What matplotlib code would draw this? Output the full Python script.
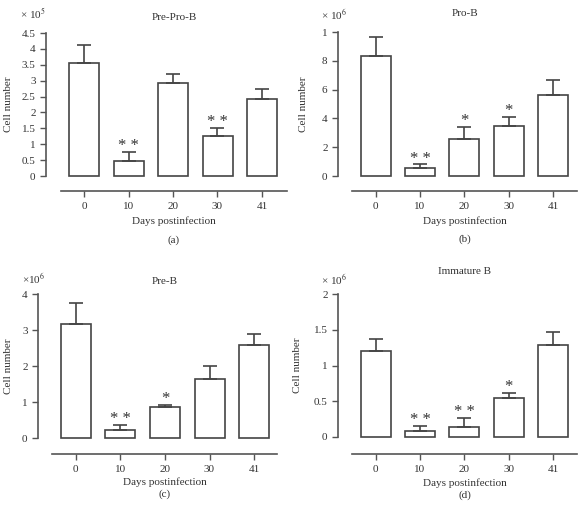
import matplotlib
matplotlib.use("Agg")
import matplotlib.pyplot as plt

plt.rcParams['font.family'] = ['Liberation Serif', 'DejaVu Serif']
plt.rcParams['mathtext.fontset'] = 'stix'

days = ["0", "10", "20", "30", "41"]

# panel data (values in units of the multiplier shown on the axis)
prepro_mean = [3.55, 0.47, 2.93, 1.27, 2.42]
prepro_err = [0.57, 0.30, 0.29, 0.25, 0.32]
prepro_stars = ["", "**", "", "**", ""]

pro_mean = [8.3, 0.55, 2.6, 3.45, 5.65]
pro_err = [1.35, 0.25, 0.8, 0.65, 1.0]
pro_stars = ["", "**", "*", "*", ""]

preb_mean = [3.18, 0.22, 0.86, 1.63, 2.58]
preb_err = [0.57, 0.13, 0.07, 0.37, 0.30]
preb_stars = ["", "**", "*", "", ""]

imm_mean = [1.2, 0.09, 0.14, 0.54, 1.29]
imm_err = [0.17, 0.07, 0.13, 0.07, 0.18]
imm_stars = ["", "**", "**", "*", ""]

W, H = 585, 511
fig = plt.figure(figsize=(W / 100, H / 100), dpi=100)

LC = "#555555"
TC = "#333333"
FS = 8


def panel(mean, err, stars, ymax, yticks, yticklabels, title, mult, tag,
          ax_x, top_y, zero_y, line_y, line_x0, line_x1, c0, step,
          title_y, mult_x, mult_y, xlab_y, tag_y, ylab_x):
    left = ax_x / W
    width = (line_x1 - ax_x) / W
    bottom = 1 - line_y / H
    height = (line_y - top_y) / H
    ax = fig.add_axes([left, bottom, width, height])
    ppu = (zero_y - top_y) / ymax
    ax.set_ylim(-(line_y - zero_y) / ppu, ymax)
    xmin = (ax_x - c0) / step
    xmax = (line_x1 - c0) / step
    ax.set_xlim(xmin, xmax)
    pos = list(range(len(mean)))
    ax.bar(pos, mean, width=30 / step, facecolor="white", edgecolor="#444444",
           linewidth=1.2, zorder=2)
    ax.errorbar(pos, mean, yerr=[[0] * len(err), err], fmt="none",
                ecolor="#444444", elinewidth=1.2, capsize=5, capthick=1.2, zorder=3)
    for p, m, e, s in zip(pos, mean, err, stars):
        if s:
            ax.annotate(" ".join(s), (p, m + e), xytext=(0, -1.5), textcoords="offset points",
                        ha="center", va="bottom", fontsize=12, color=TC)
    for side in ["top", "right"]:
        ax.spines[side].set_visible(False)
    ax.spines["left"].set_bounds(0, ymax)
    ax.spines["bottom"].set_bounds((line_x0 - c0) / step, xmax)
    for side in ["left", "bottom"]:
        ax.spines[side].set_color(LC)
        ax.spines[side].set_linewidth(1.2)
    ax.set_yticks(yticks)
    ax.set_yticklabels(yticklabels)
    ax.set_xticks(pos)
    ax.set_xticklabels(days)
    ax.tick_params(colors=LC, labelcolor=TC, labelsize=FS, width=1.0, length=4)
    ax.tick_params(axis="x", pad=4)
    xc = ((line_x0 + line_x1) / 2) / W
    fig.text(xc, 1 - title_y / H, title, ha="center", va="center", fontsize=FS, color=TC)
    fig.text(mult_x / W, 1 - mult_y / H, mult, ha="left", va="center", fontsize=FS, color=TC)
    fig.text(xc, 1 - xlab_y / H, "Days postinfection", ha="center", va="center",
             fontsize=FS, color=TC)
    fig.text(xc, 1 - tag_y / H, tag, ha="center", va="center", fontsize=FS, color=TC)
    fig.text(ylab_x / W, 1 - ((top_y + zero_y) / 2) / H, "Cell number", rotation=90,
             ha="center", va="center", fontsize=FS, color=TC)
    return ax


panel(prepro_mean, prepro_err, prepro_stars, 4.5,
      [0, 0.5, 1, 1.5, 2, 2.5, 3, 3.5, 4, 4.5],
      ["0", "0.5", "1", "1.5", "2", "2.5", "3", "3.5", "4", "4.5"],
      "Pre-Pro-B", r"× 10$^5$", "(a)",
      ax_x=46, top_y=33, zero_y=176, line_y=191, line_x0=61, line_x1=287,
      c0=84, step=44.5, title_y=17, mult_x=20, mult_y=14, xlab_y=221, tag_y=240,
      ylab_x=9)

panel(pro_mean, pro_err, pro_stars, 10,
      [0, 2, 4, 6, 8, 10], ["0", "2", "4", "6", "8", "1"],
      "Pro-B", r"× 10$^6$", "(b)",
      ax_x=338, top_y=32, zero_y=176, line_y=191, line_x0=352, line_x1=577,
      c0=375.7, step=44.3, title_y=14, mult_x=321, mult_y=15, xlab_y=221, tag_y=239,
      ylab_x=304)

panel(preb_mean, preb_err, preb_stars, 4,
      [0, 1, 2, 3, 4], ["0", "1", "2", "3", "4"],
      "Pre-B", r"×10$^6$", "(c)",
      ax_x=38, top_y=294, zero_y=438, line_y=454, line_x0=52, line_x1=277,
      c0=75.7, step=44.6, title_y=282, mult_x=22, mult_y=279, xlab_y=482, tag_y=494,
      ylab_x=9)

panel(imm_mean, imm_err, imm_stars, 2,
      [0, 0.5, 1, 1.5, 2], ["0", "0.5", "1", "1.5", "2"],
      "Immature B", r"× 10$^6$", "(d)",
      ax_x=338, top_y=294, zero_y=437, line_y=454, line_x0=352, line_x1=577,
      c0=375.7, step=44.3, title_y=272, mult_x=321, mult_y=280, xlab_y=483, tag_y=495,
      ylab_x=297)

fig.savefig("out.png", dpi=100)
